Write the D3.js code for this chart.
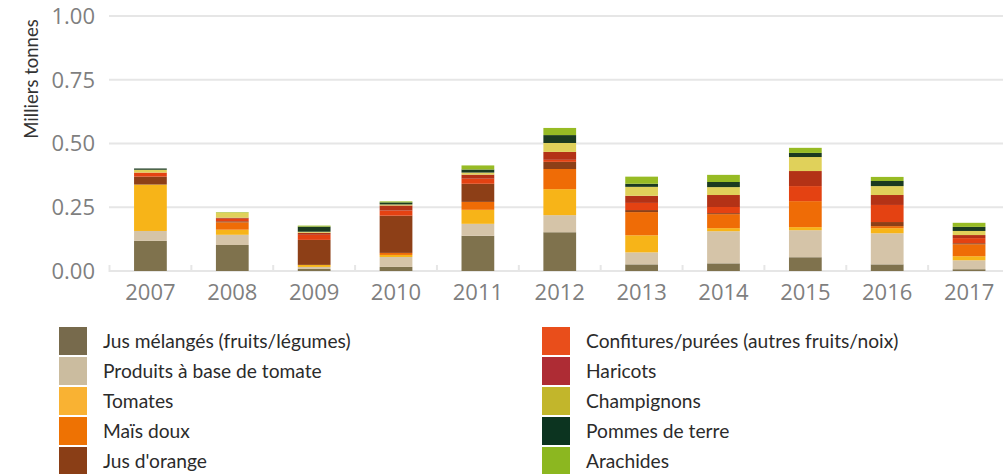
<!DOCTYPE html>
<html><head><meta charset="utf-8">
<script src="https://cdn.jsdelivr.net/npm/d3@7"></script>
<style>body{margin:0;background:#fff;overflow:hidden}svg{display:block}</style>
</head><body>
<svg id="c" width="1003" height="474"></svg>
<script>
const years = ["2007","2008","2009","2010","2011","2012","2013","2014","2015","2016","2017"];
const seriesNames = ["Jus mélangés (fruits/légumes)","Produits à base de tomate","Tomates","Maïs doux","Jus d'orange","Confitures/purées (autres fruits/noix)","Haricots","Champignons","Pommes de terre","Arachides"];
const jusMelanges   = [0.118,0.102,0.008,0.016,0.138,0.152,0.026,0.030,0.054,0.026,0.007];
const produitsTomate= [0.039,0.040,0.008,0.039,0.047,0.067,0.047,0.126,0.106,0.122,0.035];
const tomates       = [0.182,0.020,0.008,0.008,0.055,0.102,0.067,0.012,0.012,0.020,0.016];
const maisDoux      = [0.000,0.029,0.000,0.008,0.031,0.079,0.091,0.055,0.102,0.008,0.047];
const jusOrange     = [0.031,0.004,0.098,0.146,0.071,0.028,0.008,0.004,0.000,0.016,0.004];
const confitures    = [0.016,0.010,0.020,0.020,0.020,0.008,0.028,0.024,0.059,0.067,0.020];
const haricots      = [0.000,0.004,0.008,0.020,0.016,0.031,0.028,0.047,0.059,0.039,0.012];
const champignons   = [0.011,0.020,0.004,0.004,0.008,0.035,0.035,0.031,0.055,0.035,0.016];
const pommesTerre   = [0.005,0.000,0.020,0.008,0.012,0.031,0.012,0.020,0.016,0.020,0.016];
const arachides     = [0.000,0.002,0.004,0.004,0.016,0.028,0.028,0.028,0.020,0.016,0.016];
const yTicks = [0, 0.25, 0.5, 0.75, 1];
const barColors    = ["#7f724d","#d5c4a8","#f7b418","#ef6c06","#8d3f17","#e44212","#b33216","#e0d15a","#1b3a20","#97bb24"];
const legendColors = ["#776a4c","#cbbc9f","#f9b233","#ee7203","#8a3e16","#e94e1b","#ae2c34","#c2b62b","#0c3420","#8cb720"];

const allSeries = [jusMelanges,produitsTomate,tomates,maisDoux,jusOrange,confitures,haricots,champignons,pommesTerre,arachides];
const rows = years.map((y,i)=>{const o={year:y}; seriesNames.forEach((n,k)=>o[n]=allSeries[k][i]); return o;});

const svg = d3.select("#c");
const x = d3.scaleBand().domain(years).range([109.5,1010]).paddingInner(0.6).paddingOuter(0.3);
const y = d3.scaleLinear().domain([0,1]).range([271,16]);

// gridlines
svg.append("g").selectAll("line").data(yTicks).join("line")
  .attr("x1",109).attr("x2",1003).attr("y1",d=>y(d)).attr("y2",d=>y(d))
  .attr("stroke","#e6e6e6").attr("stroke-width",2);

// category boundary ticks
const step = x.step();
svg.append("g").selectAll("line").data(d3.range(years.length+1)).join("line")
  .attr("x1",d=>109.5+d*step).attr("x2",d=>109.5+d*step)
  .attr("y1",y(0)-6).attr("y2",y(0)+1)
  .attr("stroke","#e6e6e6").attr("stroke-width",2);

// y tick labels
svg.append("g").selectAll("text").data(yTicks).join("text")
  .attr("x",95).attr("y",d=>y(d)).attr("dy","0.36em").attr("text-anchor","end")
  .attr("font-family","'Open Sans', sans-serif").attr("font-size",22).attr("fill","#7f7f7f")
  .text(d=>d3.format(".2f")(d));

// x labels
svg.append("g").selectAll("text").data(years).join("text")
  .attr("x",d=>x(d)+x.bandwidth()/2).attr("y",300).attr("text-anchor","middle")
  .attr("font-family","'Open Sans', sans-serif").attr("font-size",22).attr("fill","#7f7f7f")
  .text(d=>d);

// axis title
svg.append("text").attr("transform","translate(38,79) rotate(-90)").attr("text-anchor","middle")
  .attr("font-family","Lato, sans-serif").attr("font-size",18.5).attr("fill","#333")
  .text("Milliers tonnes");

// stacked bars
const stack = d3.stack().keys(seriesNames)(rows);
svg.append("g").selectAll("g").data(stack).join("g")
  .attr("fill",(d,i)=>barColors[i])
  .selectAll("rect").data(d=>d).join("rect")
  .attr("x",d=>x(d.data.year)).attr("width",x.bandwidth())
  .attr("y",d=>y(d[1])).attr("height",d=>Math.max(0,y(d[0])-y(d[1])));

// legend
const lg = svg.append("g");
const items = lg.selectAll("g").data(seriesNames).join("g")
  .attr("transform",(d,i)=>`translate(${i<5?59:542},${327+(i%5)*30})`);
items.append("rect").attr("width",28).attr("height",28).attr("fill",(d,i)=>legendColors[i]);
items.append("text").attr("x",44).attr("y",14).attr("dy","0.36em")
  .attr("font-family","Lato, sans-serif").attr("font-size",19.2).attr("fill","#2b2b2b")
  .text(d=>d);
</script>
</body></html>
